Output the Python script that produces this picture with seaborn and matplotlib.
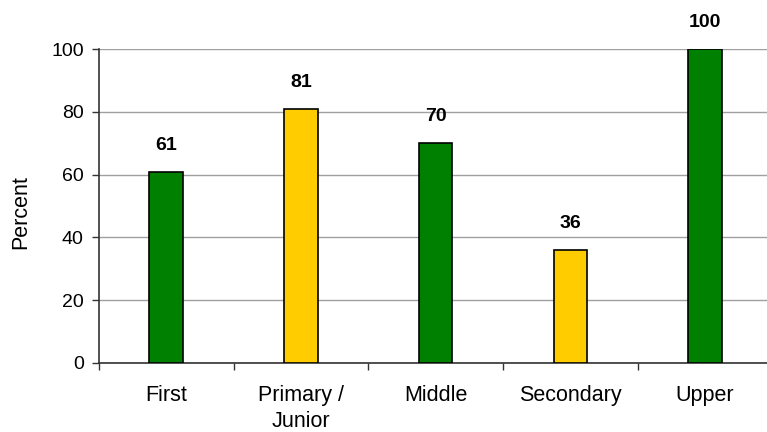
import matplotlib
matplotlib.use("Agg")
import matplotlib.pyplot as plt
import seaborn as sns
import pandas as pd

categories = ["First", "Primary /\nJunior", "Middle", "Secondary", "Upper"]
percent = [61, 81, 70, 36, 100]
bar_colors = ["#008000", "#FFCC00", "#008000", "#FFCC00", "#008000"]
y_ticks = [0, 20, 40, 60, 80, 100]

sns.set_theme(style="white")
plt.rcParams["font.family"] = ["Liberation Sans", "DejaVu Sans"]
plt.rcParams["text.color"] = "black"
plt.rcParams["axes.labelcolor"] = "black"

df = pd.DataFrame({"school": categories, "percent": percent})

fig = plt.figure(figsize=(7.67, 4.32), dpi=100)
ax = fig.add_axes([0.129, 0.160, 0.878, 0.726])

sns.barplot(data=df, x="school", y="percent", hue="school",
            palette=bar_colors, saturation=1, legend=False, width=0.25,
            edgecolor="black", linewidth=1.2, ax=ax, zorder=3)

ax.set_ylim(0, 100)
ax.set_xlim(-0.5, len(categories) - 0.5)
ax.set_yticks(y_ticks)
ax.set_yticklabels([str(t) for t in y_ticks])
ax.yaxis.grid(True, color="#a0a0a0", linewidth=1, zorder=0)
ax.set_axisbelow(True)

# category labels centred, tick marks on category boundaries
ax.set_xticks([i - 0.5 for i in range(len(categories) + 1)])
ax.set_xticklabels([""] * (len(categories) + 1))
ax.set_xticks([i for i in range(len(categories))], minor=True)
ax.set_xticklabels(categories, minor=True)
ax.tick_params(axis="x", which="minor", length=0, pad=16,
               labelsize=15.5, labelcolor="black")
ax.tick_params(axis="x", which="major", direction="out", length=5,
               width=1, color="#333333", bottom=True)
ax.tick_params(axis="y", direction="out", length=5, width=1,
               color="#333333", left=True, pad=6,
               labelsize=14, labelcolor="black")
for lbl in ax.get_xticklabels(minor=True):
    lbl.set_linespacing(1.3)

ax.set_xlabel("")
ax.set_ylabel("Percent", fontsize=15.5, labelpad=13, color="black")
ax.yaxis.set_label_coords(-0.1, 0.48)

for side in ["top", "right"]:
    ax.spines[side].set_visible(False)
for side in ["left", "bottom"]:
    ax.spines[side].set_color("#333333")
    ax.spines[side].set_linewidth(1.2)

for i, v in enumerate(percent):
    ax.annotate(str(v), (i, v), xytext=(0, 13), textcoords="offset points",
                ha="center", va="bottom", fontsize=14, fontweight="bold",
                color="black")

fig.savefig("out.png", dpi=100)
